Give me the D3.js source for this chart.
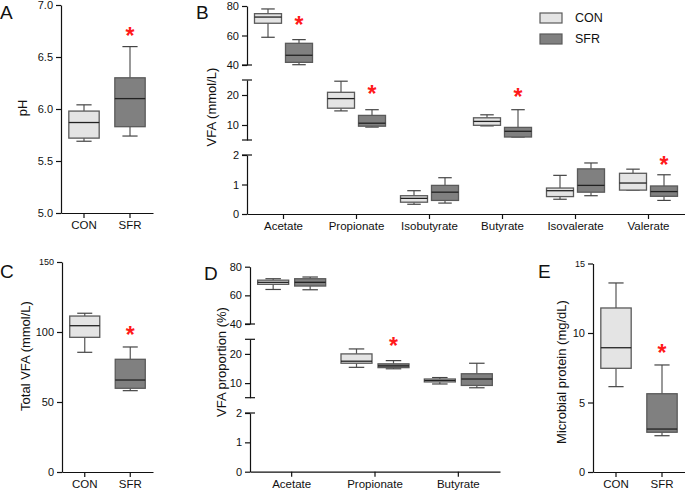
<!DOCTYPE html>
<html><head><meta charset="utf-8">
<script src="https://cdn.jsdelivr.net/npm/d3@7"></script>
<style>
body{margin:0;background:#fff;}
svg text{font-family:Arial,"Liberation Sans",sans-serif;fill:#111;}
</style></head>
<body>
<svg id="c" width="685" height="490"></svg>
<script>
// ---------- DATA ----------
const groups = ["CON", "SFR"];
// box stats: [min, q1, median, q3, max]
const phCON = [5.69, 5.72, 5.87, 5.98, 6.04];
const phSFR = [5.74, 5.83, 6.10, 6.30, 6.60];
const phStar = 6.75;
const phTicks = [5.0, 5.5, 6.0, 6.5, 7.0];

const vfaCategories = ["Acetate", "Propionate", "Isobutyrate", "Butyrate", "Isovalerate", "Valerate"];
const vfaCON = [[58.8, 68.3, 72.5, 74.8, 78.0], [14.7, 15.6, 18.8, 20.9, 24.6], [0.33, 0.40, 0.53, 0.62, 0.79],
                [9.7, 9.9, 11.2, 12.4, 13.4], [0.50, 0.59, 0.79, 0.88, 1.31], [0.81, 0.81, 1.05, 1.38, 1.52]];
const vfaSFR = [[40.2, 41.8, 46.6, 54.7, 57.2], [9.3, 9.6, 10.6, 13.2, 15.1], [0.37, 0.46, 0.74, 0.97, 1.23],
                [6.0, 6.0, 7.9, 9.2, 15.1], [0.62, 0.74, 0.97, 1.53, 1.73], [0.46, 0.60, 0.76, 0.95, 1.33]];
const vfaStars = [70, 22, null, 21, null, 1.81];

const totCON = [85.5, 96.2, 104.5, 111.4, 113.4];
const totSFR = [58.1, 59.8, 65.7, 80.5, 89.3];
const totStar = 101;
const totTicks = [0, 50, 100, 150];

const propCategories = ["Acetate", "Propionate", "Butyrate"];
const propCON = [[64.1, 67.7, 69.1, 70.6, 71.6], [15.4, 16.8, 17.5, 20.0, 21.7], [9.7, 10.4, 10.9, 11.4, 11.9]];
const propSFR = [[63.9, 66.5, 69.1, 71.6, 72.8], [14.9, 15.3, 15.9, 16.6, 17.7], [8.4, 9.2, 11.4, 13.2, 16.8]];
const propStars = [null, 24.3, null];

const mpCON = [6.14, 7.46, 8.94, 11.8, 13.6];
const mpSFR = [2.61, 2.86, 3.09, 5.63, 7.7];
const mpStar = 8.85;
const mpTicks = [0, 5, 10, 15];

// broken-axis segments (value domains + tick values)
const segDomains = [[40, 80], [5, 25], [0, 2]];
const segTicks = [[40, 60, 80], [10, 20], [0, 1, 2]];

// ---------- STYLE ----------
const fills = {CON: "#e4e4e4", SFR: "#808080"};
const boxStroke = "#5a5a5a";
const svg = d3.select("#c");

function boxes(g, stats, cx, w, y, fill) {
  const [mn, q1, md, q3, mx] = stats;
  const cap = w * 0.5;
  g.append("line").attr("x1", cx).attr("x2", cx).attr("y1", y(q3)).attr("y2", y(mx)).attr("stroke", "#555").attr("stroke-width", 1.2);
  g.append("line").attr("x1", cx).attr("x2", cx).attr("y1", y(q1)).attr("y2", y(mn)).attr("stroke", "#555").attr("stroke-width", 1.2);
  g.append("line").attr("x1", cx - cap / 2).attr("x2", cx + cap / 2).attr("y1", y(mx)).attr("y2", y(mx)).attr("stroke", "#444").attr("stroke-width", 1.2);
  g.append("line").attr("x1", cx - cap / 2).attr("x2", cx + cap / 2).attr("y1", y(mn)).attr("y2", y(mn)).attr("stroke", "#444").attr("stroke-width", 1.2);
  g.append("rect").attr("x", cx - w / 2).attr("y", y(q3)).attr("width", w).attr("height", Math.max(1, y(q1) - y(q3)))
    .attr("fill", fill).attr("stroke", boxStroke).attr("stroke-width", 1.3);
  g.append("line").attr("x1", cx - w / 2).attr("x2", cx + w / 2).attr("y1", y(md)).attr("y2", y(md)).attr("stroke", "#222").attr("stroke-width", 1.3);
}
function star(g, x, yc) {
  g.append("text").attr("x", x).attr("y", yc + 12.5).attr("text-anchor", "middle")
    .attr("font-size", 23).attr("font-weight", "bold").style("fill", "#ff1a1a").text("*");
}
function styleAxis(a, fs) {
  a.selectAll("path,line").attr("stroke", "#111").attr("stroke-width", 1.2);
  a.selectAll("text").attr("font-size", fs || 11).style("fill", "#111");
}
function ytitle(x, y, t) {
  svg.append("text").attr("transform", `translate(${x},${y}) rotate(-90)`).attr("text-anchor", "middle")
    .attr("dominant-baseline", "central").attr("font-size", 13).text(t);
}
function letter(x, y, t) {
  svg.append("text").attr("x", x).attr("y", y).attr("font-size", 19).text(t);
}

// ---------- simple two-group panel ----------
function simplePanel(o) {
  const g = svg.append("g");
  const x = d3.scaleBand().domain(groups).range([o.x0, o.x1]);
  const y = d3.scaleLinear().domain(o.domain).range([o.yb, o.yt]);
  const ya = g.append("g").attr("transform", `translate(${o.x0},0)`)
    .call(d3.axisLeft(y).tickValues(o.ticks).tickFormat(o.fmt).tickSize(5).tickSizeOuter(0));
  styleAxis(ya);
  ya.selectAll(".tick text").filter(d => d === o.ticks[o.ticks.length - 1] && o.smallTop).attr("font-size", 9);
  const xa = g.append("g").attr("transform", `translate(0,${o.yb})`)
    .call(d3.axisBottom(x).tickSize(5).tickSizeOuter(0));
  styleAxis(xa, 11.5);
  const w = x.bandwidth() * 0.66;
  boxes(g, o.con, x("CON") + x.bandwidth() / 2, w, y, fills.CON);
  boxes(g, o.sfr, x("SFR") + x.bandwidth() / 2, w, y, fills.SFR);
  star(g, x("SFR") + x.bandwidth() / 2, y(o.star));
}

// ---------- broken axis panel ----------
function brokenPanel(o) {
  const g = svg.append("g");
  const x = d3.scaleBand().domain(o.cats).range([o.x0, o.x1]);
  const scales = segDomains.map((d, i) => d3.scaleLinear().domain(d).range(o.segRanges[i]));
  const y = v => {
    for (let i = 0; i < segDomains.length; i++) {
      const d = segDomains[i];
      if (v >= d[0] - 2 && v <= d[1] + 2) return scales[i](v);
    }
    return scales[1](v);
  };
  scales.forEach((s, i) => {
    const a = g.append("g").attr("transform", `translate(${o.x0},0)`)
      .call(d3.axisLeft(s).tickValues(segTicks[i]).tickFormat(d3.format("d")).tickSize(5).tickSizeOuter(0));
    styleAxis(a);
    // break caps
    const ends = [];
    if (i > 0) ends.push(s.range()[1]);
    if (i < segDomains.length - 1) ends.push(s.range()[0]);
    ends.forEach(yy => g.append("line").attr("x1", o.x0 - 5).attr("x2", o.x0 + 5).attr("y1", yy).attr("y2", yy)
      .attr("stroke", "#111").attr("stroke-width", 1.2));
  });
  const xa = g.append("g").attr("transform", `translate(0,${o.segRanges[2][0]})`)
    .call(d3.axisBottom(x).tickSize(5).tickSizeOuter(0));
  styleAxis(xa, 11.5);
  const bw = x.bandwidth();
  o.cats.forEach((c, i) => {
    const cx = x(c) + bw / 2;
    boxes(g, o.con[i], cx - o.off, o.w, y, fills.CON);
    boxes(g, o.sfr[i], cx + o.off, o.w, y, fills.SFR);
    if (o.stars[i] != null) star(g, cx + o.off, y(o.stars[i]));
  });
}

// Panel A
simplePanel({x0: 61, x1: 153, yt: 5, yb: 213, domain: [5, 7], ticks: phTicks, fmt: d3.format(".1f"),
  con: phCON, sfr: phSFR, star: phStar});
letter(0, 19, "A");
ytitle(22, 108, "pH");

// Panel B
brokenPanel({x0: 247, x1: 685, cats: vfaCategories, segRanges: [[65, 6], [140, 80], [214, 155]],
  con: vfaCON, sfr: vfaSFR, stars: vfaStars, off: 15.5, w: 27});
letter(196, 19, "B");
ytitle(211, 107, "VFA (mmol/L)");

// legend
const lg = svg.append("g");
groups.forEach((k, i) => {
  lg.append("rect").attr("x", 540).attr("y", 13 + i * 21).attr("width", 22).attr("height", 10)
    .attr("fill", fills[k]).attr("stroke", boxStroke).attr("stroke-width", 1.2);
  lg.append("text").attr("x", 575).attr("y", 18 + i * 21).attr("dominant-baseline", "central")
    .attr("font-size", 12.5).text(k);
});

// Panel C
simplePanel({x0: 62, x1: 153, yt: 262, yb: 472, domain: [0, 150], ticks: totTicks, fmt: d3.format("d"),
  con: totCON, sfr: totSFR, star: totStar, smallTop: true});
letter(0, 278, "C");
ytitle(25, 356, "Total VFA (mmol/L)");

// Panel D
brokenPanel({x0: 250, x1: 500, cats: propCategories, segRanges: [[324, 266.7], [397.7, 339.3], [471.7, 413]],
  con: propCON, sfr: propSFR, stars: propStars, off: 18.5, w: 31});
letter(204, 280, "D");
ytitle(221, 362, "VFA proportion (%)");

// Panel E
simplePanel({x0: 593, x1: 685, yt: 263.5, yb: 472, domain: [0, 15], ticks: mpTicks, fmt: d3.format("d"),
  con: mpCON, sfr: mpSFR, star: mpStar, smallTop: true});
letter(538, 278, "E");
ytitle(561, 372, "Microbial protein (mg/dL)");
</script>
</body></html>
